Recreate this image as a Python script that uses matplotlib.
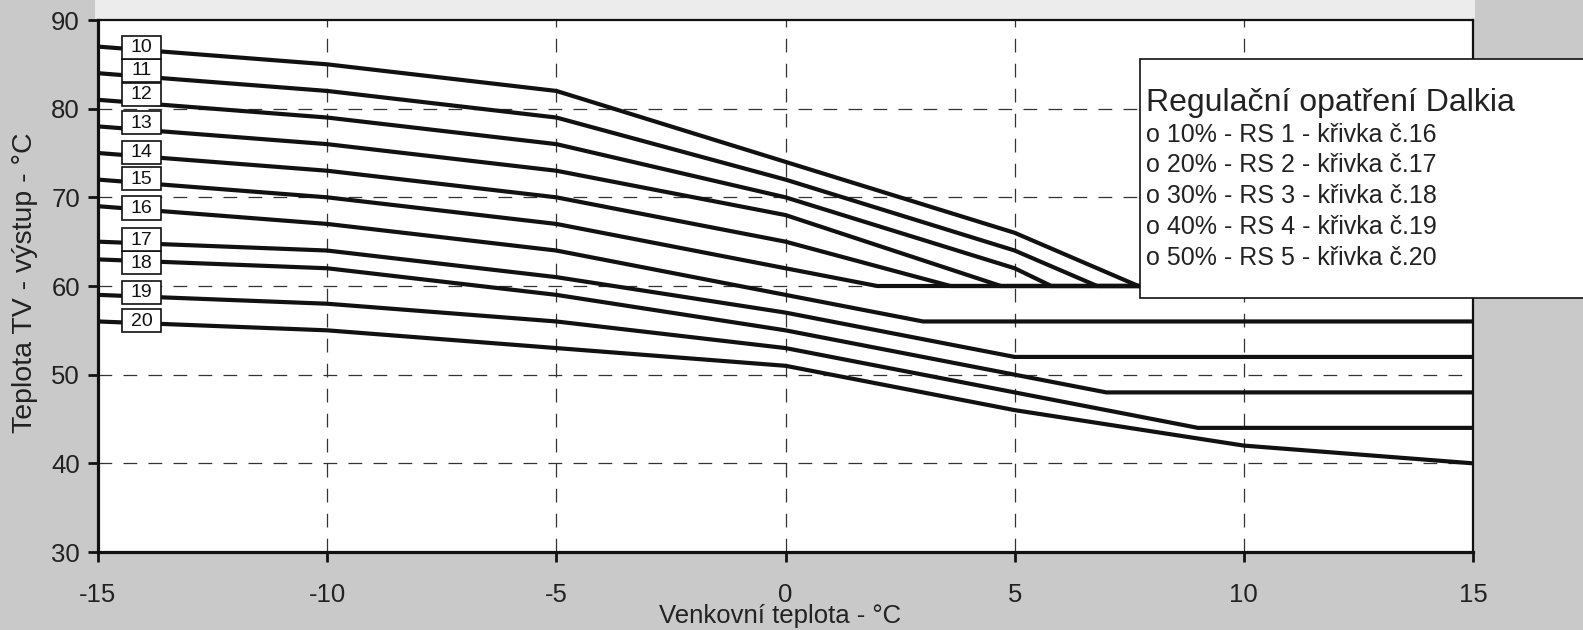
import numpy as np
import matplotlib
matplotlib.use("Agg")
import matplotlib.pyplot as plt
from matplotlib.patches import Rectangle

plt.rcParams['font.family'] = ['Liberation Sans', 'DejaVu Sans']
plt.rcParams['axes.unicode_minus'] = False

# ---------------- data ----------------
curve_ids = [10, 11, 12, 13, 14, 15, 16, 17, 18, 19, 20]
outdoor_main = [-15, -10, -5, 0]
supply_main = [
    [87, 85, 82, 74],   # 10
    [84, 82, 79, 72],   # 11
    [81, 79, 76, 70],   # 12
    [78, 76, 73, 68],   # 13
    [75, 73, 70, 65],   # 14
    [72, 70, 67, 62],   # 15
    [69, 67, 64, 59],   # 16
    [65, 64, 61, 57],   # 17
    [63, 62, 59, 55],   # 18
    [59, 58, 56, 53],   # 19
    [56, 55, 53, 51],   # 20
]
outdoor_tail = [
    [5, 7.7, 15],
    [5, 6.8, 15],
    [5, 5.8, 15],
    [4.7, 15],
    [3.6, 15],
    [2, 15],
    [3, 15],
    [5, 15],
    [5, 7, 15],
    [5, 9, 15],
    [5, 10, 15],
]
supply_tail = [
    [66, 60, 60],
    [64, 60, 60],
    [62, 60, 60],
    [60, 60],
    [60, 60],
    [60, 60],
    [56, 56],
    [52, 52],
    [50, 48, 48],
    [48, 44, 44],
    [46, 42, 40],
]
x_ticks = [-15, -10, -5, 0, 5, 10, 15]
y_ticks = [30, 40, 50, 60, 70, 80, 90]
x_label = "Venkovní teplota - °C"
y_label = "Teplota TV - výstup - °C"
legend_title = "Regulační opatření Dalkia"
legend_lines = [
    "o 10% - RS 1 - křivka č.16",
    "o 20% - RS 2 - křivka č.17",
    "o 30% - RS 3 - křivka č.18",
    "o 40% - RS 4 - křivka č.19",
    "o 50% - RS 5 - křivka č.20",
]

# ---------------- layout ----------------
W, H = 1583, 630
fig = plt.figure(figsize=(W / 100, H / 100), dpi=100, facecolor='#c9c9c9')
# lighter strip above plot (scan background)
fig.add_artist(Rectangle((95 / W, 1 - 20 / H), (1475 - 95) / W, 20 / H,
                         transform=fig.transFigure, facecolor='#ececec',
                         edgecolor='none', zorder=0))

ax = fig.add_axes([98 / W, 1 - 552 / H, (1473 - 98) / W, (552 - 20) / H])
ax.set_facecolor('white')
ax.set_xlim(-15, 15)
ax.set_ylim(30, 90)

# grid
for xv in x_ticks[1:-1]:
    ax.axvline(xv, color='#333333', lw=0.9, ls=(0, (11, 9)), zorder=1)
for yv in y_ticks[1:-1]:
    ax.axhline(yv, color='#333333', lw=0.9, ls=(0, (11, 9)), zorder=1)

# curves
for cid, ym, xt, yt in zip(curve_ids, supply_main, outdoor_tail, supply_tail):
    xs = list(outdoor_main) + list(xt)
    ys = list(ym) + list(yt)
    ax.plot(xs, ys, color='#111111', lw=3.0, solid_joinstyle='miter',
            solid_capstyle='butt', zorder=3)

# curve number boxes
label_x = -14.05
box_w, box_h = 0.84, 2.6
label_y = [86.9, 84.3, 81.6, 78.4, 75.1, 72.1, 68.8, 65.2, 62.6, 59.3, 56.1]
order = list(range(len(curve_ids)))[::-1]
for i in order:
    cid = curve_ids[i]
    yc = label_y[i]
    ax.add_patch(Rectangle((label_x - box_w / 2, yc - box_h / 2), box_w, box_h,
                           facecolor='white', edgecolor='#111111', lw=1.2,
                           zorder=5))
    ax.text(label_x, yc - 0.05, str(cid), ha='center', va='center',
            fontsize=14, color='#111111', zorder=6)

# axes styling
ax.set_xticks(x_ticks)
ax.set_yticks(y_ticks)
ax.set_xticklabels([str(v) for v in x_ticks])
ax.set_yticklabels([str(v) for v in y_ticks])
ax.tick_params(axis='both', direction='out', length=7, width=2,
               colors='#111111', labelcolor='#222222', labelsize=18.5)
ax.tick_params(axis='x', pad=15)
ax.tick_params(axis='y', pad=6)
for s in ['left', 'bottom']:
    ax.spines[s].set_linewidth(2.3)
    ax.spines[s].set_color('#111111')
for s in ['top', 'right']:
    ax.spines[s].set_linewidth(1.6)
    ax.spines[s].set_color('#111111')
for s in ax.spines.values():
    s.set_zorder(7)

fig.text(780 / W, 1 - 616 / H, x_label, ha='center', va='center',
         fontsize=18.5, color='#222222')
fig.text(25 / W, 1 - 283 / H, y_label, ha='center', va='center',
         rotation=90, fontsize=20.5, color='#222222')

# legend box (extends beyond plot to the figure edge)
fig.add_artist(Rectangle((1140 / W, 1 - 298 / H), (W + 10 - 1140) / W,
                         (298 - 59) / H, transform=fig.transFigure,
                         facecolor='white', edgecolor='#111111', lw=1.2,
                         zorder=10, clip_on=False))
fig.text(1146 / W, 1 - 110.7 / H, legend_title, ha='left', va='baseline',
         fontsize=23, color='#222222', zorder=11)
for k, line in enumerate(legend_lines):
    fig.text(1146 / W, 1 - (141.7 + 30.8 * k) / H, line, ha='left',
             va='baseline', fontsize=18, color='#222222', zorder=11)

fig.savefig('out.png', dpi=100, facecolor=fig.get_facecolor())
